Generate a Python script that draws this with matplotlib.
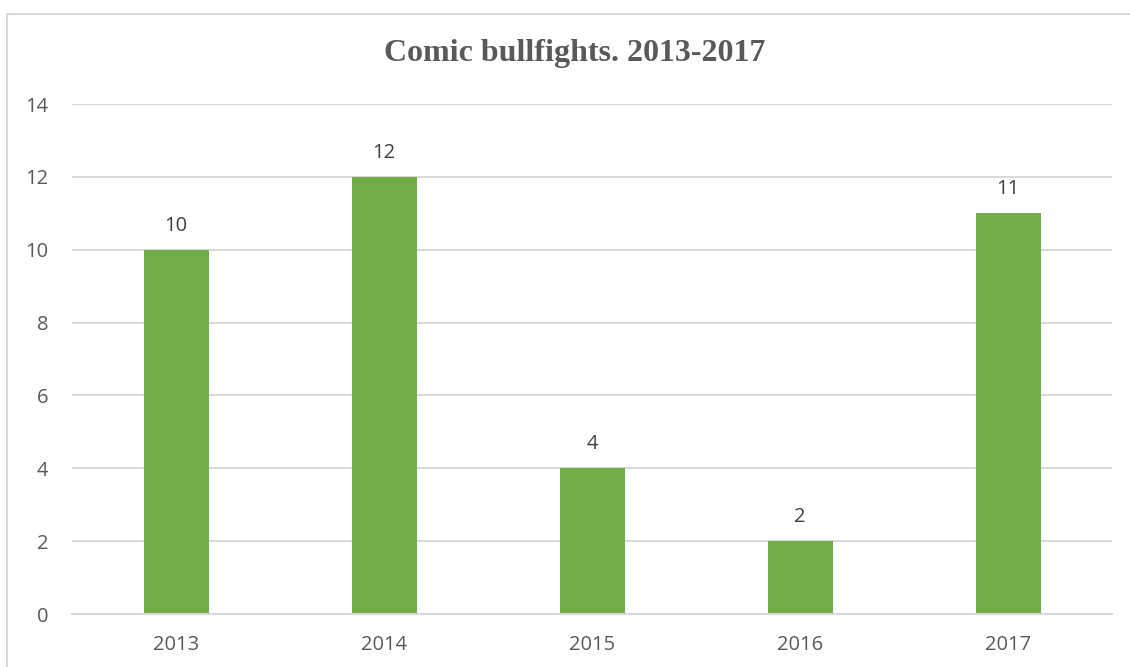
import matplotlib
matplotlib.use("Agg")
import matplotlib.pyplot as plt
from matplotlib.patches import Rectangle

years = ["2013", "2014", "2015", "2016", "2017"]
counts = [10, 12, 4, 2, 11]
y_ticks = [0, 2, 4, 6, 8, 10, 12, 14]

W, H = 1130, 667
fig = plt.figure(figsize=(W / 100, H / 100), dpi=100)
fig.patch.set_facecolor("white")

# chart frame (runs off the right and bottom edges)
fig.patches.append(Rectangle((7 / W, -0.05), 1.1, 1 - 14 / H + 0.05,
                             transform=fig.transFigure, fill=False,
                             edgecolor="#D9D9D9", linewidth=1.5, clip_on=False))

ax = fig.add_axes([72 / W, 1 - 614 / H, (1112 - 72) / W, (614 - 104) / H])
x = range(len(years))
bars = ax.bar(x, counts, width=0.3125, color="#70AD47", zorder=3)

ax.set_xlim(-0.5, len(years) - 0.5)
ax.set_ylim(0, 14)
ax.set_yticks(y_ticks)
ax.set_xticks(list(x))
ax.set_xticklabels(years)

font = "Open Sans"
for lbl in ax.get_xticklabels() + ax.get_yticklabels():
    lbl.set_fontfamily(font)
    lbl.set_fontsize(14.5)
    lbl.set_color("#595959")
ax.tick_params(axis="both", length=0)
ax.tick_params(axis="y", pad=17)
ax.tick_params(axis="x", pad=15)

ax.grid(axis="y", color="#D9D9D9", linewidth=1.5, zorder=0)
for side in ("left", "right", "top"):
    ax.spines[side].set_visible(False)
ax.spines["bottom"].set_color("#D9D9D9")
ax.spines["bottom"].set_linewidth(1.5)
ax.spines["bottom"].set_zorder(4)

for rect, v in zip(bars, counts):
    ax.annotate(str(v), (rect.get_x() + rect.get_width() / 2, v),
                xytext=(0, 10), textcoords="offset points",
                ha="center", va="bottom", fontfamily=font, fontsize=14.5,
                color="#404040")

fig.text(575 / W, 1 - 53 / H, "Comic bullfights. 2013-2017",
         ha="center", va="center", fontfamily="Liberation Serif",
         fontweight="bold", fontsize=23, color="#595959")

fig.savefig("out.png", dpi=100, facecolor="white")
